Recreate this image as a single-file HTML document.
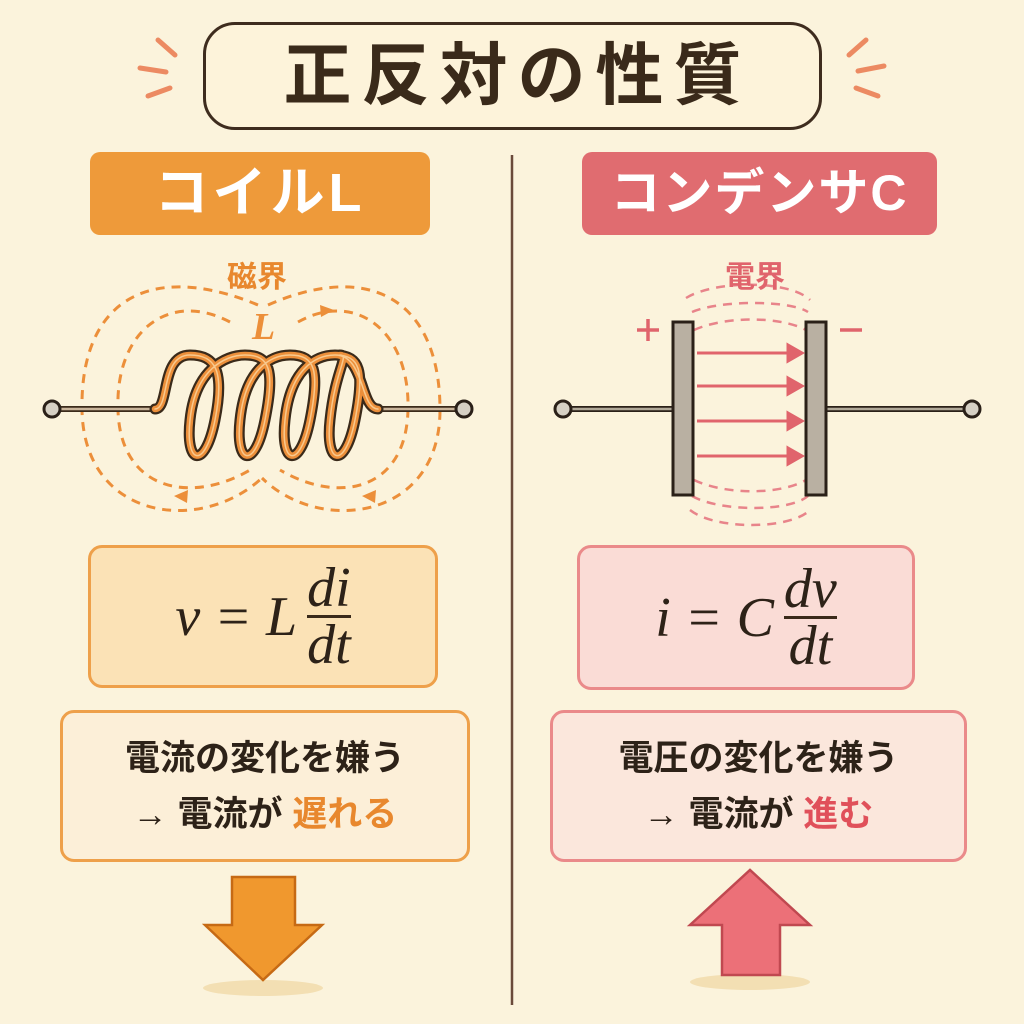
<!DOCTYPE html>
<html><head><meta charset="utf-8"><style>
html,body{margin:0;padding:0;background:#fbf3dc;}
body{width:1024px;height:1024px;position:relative;overflow:hidden;font-family:"Liberation Sans","Noto Sans CJK JP",sans-serif;}
.abs{position:absolute;box-sizing:border-box;}
.t{font-weight:bold;text-align:center;}
.frac{display:inline-block;vertical-align:middle;text-align:center;margin-left:10px;}
.frac span{display:block;line-height:54px;}
.frac .num{border-bottom:3px solid #3a2a1a;}
.math{font-family:"Liberation Serif",serif;font-style:italic;font-size:56px;color:#2d2218;display:flex;align-items:center;justify-content:center;}
</style></head><body>
<svg class="abs" style="left:0;top:0" width="1024" height="1024">
  <defs>
    <path id="coil" d="M155 409 C170 409,160 355,190 355 C215 355,225 370,215 420 C205 470,185 465,190 420 C195 370,225 355,245 355 C270 355,275 370,265 420 C255 470,235 465,240 420 C245 370,270 355,290 355 C315 355,320 370,310 420 C300 470,280 465,285 420 C290 370,315 355,335 355 C360 355,365 370,355 420 C345 470,325 465,330 420 C335 370,350 355,340 355 M335 355 C365 355,360 409,378 409"/>
  </defs>
  <g stroke="#ec8a62" stroke-width="5" stroke-linecap="round">
    <line x1="158" y1="40" x2="175" y2="55"/><line x1="140" y1="68" x2="166" y2="72"/><line x1="148" y1="96" x2="170" y2="88"/>
    <line x1="866" y1="40" x2="849" y2="55"/><line x1="884" y1="66" x2="858" y2="71"/><line x1="878" y1="96" x2="856" y2="88"/>
  </g>
  <line x1="512" y1="155" x2="512" y2="1005" stroke="#6a4a3a" stroke-width="2.5"/>
  <g fill="none" stroke="#ec8f3a" stroke-width="3" stroke-dasharray="9 7">
    <path d="M258 305 C 150 260, 80 300, 82 410 C 84 520, 200 535, 262 478"/>
    <path d="M230 322 C 170 290, 115 330, 118 410 C 120 490, 190 505, 250 470"/>
    <path d="M268 305 C 370 260, 440 300, 440 410 C 440 520, 320 535, 262 478"/>
    <path d="M298 322 C 355 290, 410 330, 408 410 C 406 490, 340 505, 280 470"/>
  </g>
  <g fill="#ec8f3a"><path d="M320 305 l14 5 l-13 7z"/><path d="M188 490 l-14 6 l13 7z"/><path d="M376 490 l-14 6 l13 7z"/></g>
  <line x1="52" y1="409" x2="158" y2="409" stroke="#3a2a1a" stroke-width="6"/><line x1="52" y1="409" x2="158" y2="409" stroke="#c9b49a" stroke-width="2.5"/>
  <line x1="372" y1="409" x2="464" y2="409" stroke="#3a2a1a" stroke-width="6"/><line x1="372" y1="409" x2="464" y2="409" stroke="#c9b49a" stroke-width="2.5"/>
  <g fill="none" stroke-linecap="round">
    <use href="#coil" stroke="#3a2a1a" stroke-width="11"/>
    <use href="#coil" stroke="#ec8f3a" stroke-width="6.5"/>
    <use href="#coil" stroke="#f8c98e" stroke-width="1.5"/>
  </g>
  <circle cx="52" cy="409" r="8" fill="#d6d0c4" stroke="#2a2018" stroke-width="3"/>
  <circle cx="464" cy="409" r="8" fill="#d6d0c4" stroke="#2a2018" stroke-width="3"/>
  <line x1="563" y1="409" x2="673" y2="409" stroke="#2a2018" stroke-width="6"/><line x1="563" y1="409" x2="673" y2="409" stroke="#b0a898" stroke-width="2.5"/>
  <line x1="826" y1="409" x2="972" y2="409" stroke="#2a2018" stroke-width="6"/><line x1="826" y1="409" x2="972" y2="409" stroke="#b0a898" stroke-width="2.5"/>
  <circle cx="563" cy="409" r="8" fill="#d6d0c4" stroke="#2a2018" stroke-width="3"/>
  <circle cx="972" cy="409" r="8" fill="#d6d0c4" stroke="#2a2018" stroke-width="3"/>
  <g fill="none" stroke="#e8848a" stroke-width="2.5" stroke-dasharray="9 7">
    <path d="M692 312 C720 300,790 300,808 312"/><path d="M694 330 C725 316,780 316,806 330"/><path d="M686 298 C715 280,790 280,810 300"/>
    <path d="M694 480 C725 495,780 495,806 480"/><path d="M692 496 C720 512,790 512,808 496"/><path d="M690 510 C715 530,790 530,810 510"/>
  </g>
  <rect x="673" y="322" width="20" height="173" fill="#b9b0a2" stroke="#2a2018" stroke-width="3"/>
  <rect x="806" y="322" width="20" height="173" fill="#b9b0a2" stroke="#2a2018" stroke-width="3"/>
  <g stroke="#e0646c" stroke-width="3" fill="#e0646c">
    <line x1="697" y1="353" x2="790" y2="353"/><path d="M788 345 l14 8 l-14 8z"/>
    <line x1="697" y1="386" x2="790" y2="386"/><path d="M788 378 l14 8 l-14 8z"/>
    <line x1="697" y1="421" x2="790" y2="421"/><path d="M788 413 l14 8 l-14 8z"/>
    <line x1="697" y1="456" x2="790" y2="456"/><path d="M788 448 l14 8 l-14 8z"/>
  </g>
  <g stroke="#e0646c" stroke-width="3.5"><line x1="637" y1="330" x2="659" y2="330"/><line x1="648" y1="319" x2="648" y2="341"/><line x1="840" y1="330" x2="862" y2="330"/></g>
  <ellipse cx="263" cy="988" rx="60" ry="8" fill="#f3dfb3"/>
  <ellipse cx="750" cy="982" rx="60" ry="8" fill="#f3dfb3"/>
  <path d="M232 877 H295 V925 H322 L263 980 L205 925 H232Z" fill="#f0982e" stroke="#c66a14" stroke-width="2.5"/>
  <path d="M722 975 H780 V925 H810 L750 870 L690 925 H722Z" fill="#ec7078" stroke="#c04850" stroke-width="2.5"/>
</svg>
<div class="abs t" style="left:203px;top:22px;width:619px;height:108px;border:3px solid #3e2c1e;border-radius:32px;background:#fdf3da;font-size:68px;line-height:102px;color:#3a2a1a;letter-spacing:10px;padding-left:10px;">正反対の性質</div>
<div class="abs t" style="left:90px;top:152px;width:340px;height:83px;border-radius:10px;background:#ee9a3a;color:#fff;font-size:54px;line-height:83px;letter-spacing:4px;">コイルL</div>
<div class="abs t" style="left:582px;top:152px;width:355px;height:83px;border-radius:10px;background:#e06c70;color:#fff;font-size:50px;line-height:83px;letter-spacing:2px;">コンデンサC</div>
<div class="abs t" style="left:212px;top:252px;width:90px;font-size:30px;color:#e8882e;">磁界</div>
<div class="abs" style="left:252px;top:305px;font-family:'Liberation Serif',serif;font-style:italic;font-weight:bold;font-size:38px;color:#ec8f3a;">L</div>
<div class="abs t" style="left:710px;top:252px;width:90px;font-size:30px;color:#e0646c;">電界</div>
<div class="abs math" style="left:88px;top:545px;width:350px;height:143px;border:3px solid #eea04a;border-radius:14px;background:#fbe2b6;">v = L<div class="frac"><span class="num">di</span><span>dt</span></div></div>
<div class="abs math" style="left:577px;top:545px;width:338px;height:145px;border:3px solid #ea8a8a;border-radius:14px;background:#fadcd6;">i = C<div class="frac"><span class="num">dv</span><span>dt</span></div></div>
<div class="abs t" style="left:60px;top:710px;width:410px;height:152px;border:3px solid #eea04a;border-radius:14px;background:#fcefd8;font-size:35px;line-height:56px;padding-top:18px;color:#2d2218;">電流の変化を嫌う<br>→ 電流が <span style="color:#e8882e">遅れる</span></div>
<div class="abs t" style="left:550px;top:710px;width:417px;height:152px;border:3px solid #ea8a8a;border-radius:14px;background:#fbe7dc;font-size:35px;line-height:56px;padding-top:18px;color:#2d2218;">電圧の変化を嫌う<br>→ 電流が <span style="color:#e0505a">進む</span></div>
</body></html>
